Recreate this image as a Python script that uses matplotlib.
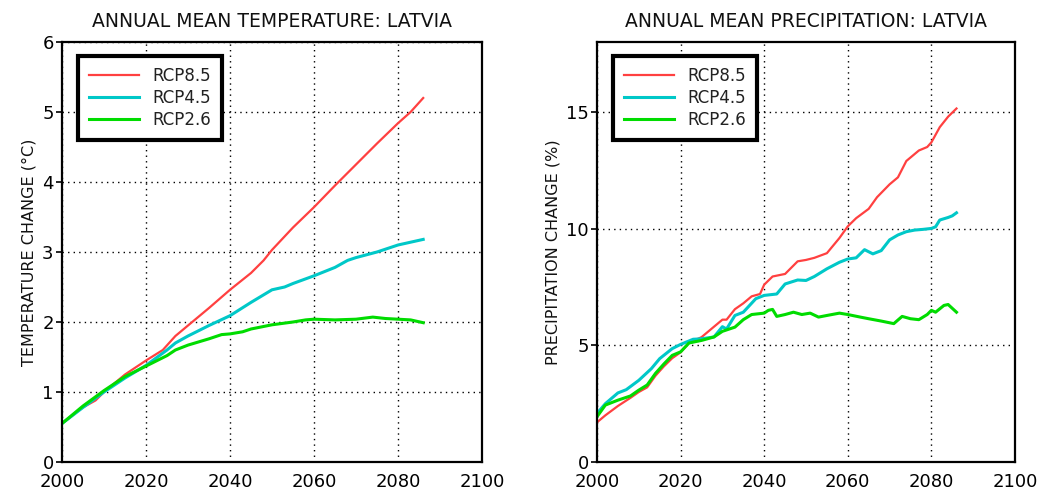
import matplotlib
matplotlib.use("Agg")
import matplotlib.pyplot as plt

# ---------------- data ----------------
temp_years_85 = [2000, 2005, 2008, 2010, 2015, 2020, 2024, 2027, 2030, 2035, 2040, 2045, 2048, 2050, 2055, 2060, 2065, 2070, 2075, 2080, 2083, 2086]
temp_rcp85 = [0.55, 0.78, 0.88, 1.0, 1.25, 1.45, 1.6, 1.8, 1.95, 2.2, 2.46, 2.7, 2.88, 3.03, 3.35, 3.64, 3.95, 4.25, 4.55, 4.84, 5.0, 5.2]
temp_years_45 = [2000, 2005, 2010, 2015, 2020, 2025, 2027, 2030, 2035, 2040, 2045, 2050, 2053, 2055, 2060, 2065, 2068, 2070, 2075, 2080, 2086]
temp_rcp45 = [0.55, 0.78, 1.0, 1.2, 1.38, 1.6, 1.7, 1.8, 1.95, 2.09, 2.28, 2.46, 2.5, 2.55, 2.66, 2.78, 2.88, 2.92, 3.0, 3.1, 3.18]
temp_years_26 = [2000, 2005, 2010, 2015, 2020, 2025, 2027, 2030, 2035, 2038, 2040, 2043, 2045, 2050, 2055, 2058, 2060, 2065, 2070, 2074, 2077, 2080, 2083, 2086]
temp_rcp26 = [0.55, 0.8, 1.02, 1.22, 1.37, 1.52, 1.6, 1.67, 1.76, 1.82, 1.83, 1.86, 1.9, 1.96, 2.0, 2.03, 2.04, 2.03, 2.04, 2.07, 2.05, 2.04, 2.03, 1.99]

prec_years_85 = [2000, 2002, 2005, 2008, 2010, 2012, 2014, 2016, 2018, 2020, 2022, 2025, 2028, 2030, 2031, 2033, 2035, 2037, 2039, 2040, 2042, 2045, 2048, 2050, 2052, 2055, 2058, 2060, 2062, 2065, 2067, 2070, 2072, 2074, 2077, 2079, 2080, 2082, 2084, 2086]
prec_rcp85 = [1.7, 2.0, 2.4, 2.75, 3.0, 3.2, 3.7, 4.1, 4.45, 4.7, 5.1, 5.35, 5.8, 6.1, 6.1, 6.55, 6.8, 7.1, 7.2, 7.6, 7.95, 8.06, 8.6, 8.66, 8.75, 8.95, 9.6, 10.1, 10.45, 10.85, 11.35, 11.9, 12.2, 12.9, 13.35, 13.5, 13.7, 14.35, 14.8, 15.15]
prec_years_45 = [2000, 2002, 2005, 2007, 2010, 2013, 2015, 2018, 2020, 2023, 2025, 2028, 2030, 2031, 2033, 2035, 2038, 2040, 2043, 2045, 2048, 2050, 2052, 2055, 2058, 2060, 2062, 2064, 2066, 2068, 2070, 2072, 2074, 2076, 2078, 2080, 2081, 2082, 2084, 2085, 2086]
prec_rcp45 = [2.08, 2.5, 2.96, 3.1, 3.5, 4.0, 4.43, 4.86, 5.04, 5.26, 5.28, 5.36, 5.8, 5.7, 6.28, 6.42, 7.0, 7.14, 7.2, 7.63, 7.8, 7.78, 7.95, 8.28, 8.56, 8.7, 8.75, 9.1, 8.92, 9.06, 9.52, 9.73, 9.87, 9.94, 9.97, 10.01, 10.08, 10.37, 10.48, 10.55, 10.68]
prec_years_26 = [2000, 2002, 2005, 2008, 2010, 2012, 2014, 2016, 2018, 2020, 2022, 2025, 2028, 2030, 2033, 2035, 2037, 2040, 2041, 2042, 2043, 2045, 2047, 2049, 2051, 2053, 2055, 2058, 2060, 2063, 2065, 2068, 2071, 2073, 2075, 2077, 2079, 2080, 2081, 2083, 2084, 2086]
prec_rcp26 = [1.94, 2.44, 2.65, 2.83, 3.08, 3.3, 3.8, 4.2, 4.57, 4.72, 5.1, 5.21, 5.36, 5.6, 5.78, 6.1, 6.32, 6.38, 6.5, 6.54, 6.24, 6.32, 6.42, 6.32, 6.38, 6.21, 6.28, 6.38, 6.32, 6.21, 6.14, 6.04, 5.93, 6.24, 6.14, 6.1, 6.32, 6.5, 6.42, 6.71, 6.75, 6.42]

series_labels = ["RCP8.5", "RCP4.5", "RCP2.6"]
x_ticks = [2000, 2020, 2040, 2060, 2080, 2100]
temp_ticks = [0, 1, 2, 3, 4, 5, 6]
prec_ticks = [0, 5, 10, 15]

colors = ["#ff4040", "#00c8c8", "#00dc00"]
widths = [1.6, 2.2, 2.2]

W, H = 1047, 491
fig = plt.figure(figsize=(W / 100, H / 100), dpi=100)
plt.rcParams['font.family'] = ['DejaVu Sans']


def style_axes(ax, yticks, ylim, ylabel, title):
    ax.set_xlim(2000, 2100)
    ax.set_ylim(*ylim)
    ax.set_xticks(x_ticks)
    ax.set_yticks(yticks)
    ax.tick_params(axis='both', labelsize=13, direction='out', length=4, width=1.2, pad=2)
    ax.tick_params(axis='x', length=0, pad=8)
    for s in ax.spines.values():
        s.set_linewidth(1.6)
        s.set_color('black')
    ax.grid(True, color='black', linestyle=(0, (1, 3)), linewidth=1.0)
    ax.set_axisbelow(True)
    ax.set_ylabel(ylabel, fontsize=11.5, labelpad=4, color='#111111')
    ax.set_title(title, fontsize=13.5, pad=11, color='#111111')
    leg = ax.legend(loc='upper left', bbox_to_anchor=(0.038, 0.967), borderaxespad=0,
                    fancybox=False, framealpha=1, edgecolor='black', fontsize=12,
                    handlelength=3.0, handletextpad=0.8, labelspacing=0.25,
                    borderpad=0.65)
    leg.get_frame().set_linewidth(3)
    for t in leg.get_texts():
        t.set_color('#222222')


ax1 = fig.add_axes([62 / W, 29 / H, 420 / W, 420 / H])
ax1.plot(temp_years_85, temp_rcp85, color=colors[0], lw=widths[0], label=series_labels[0])
ax1.plot(temp_years_45, temp_rcp45, color=colors[1], lw=widths[1], label=series_labels[1])
ax1.plot(temp_years_26, temp_rcp26, color=colors[2], lw=widths[2], label=series_labels[2])
style_axes(ax1, temp_ticks, (0, 6), "TEMPERATURE CHANGE (°C)", "ANNUAL MEAN TEMPERATURE: LATVIA")

ax2 = fig.add_axes([597 / W, 29 / H, 418 / W, 420 / H])
ax2.plot(prec_years_85, prec_rcp85, color=colors[0], lw=widths[0], label=series_labels[0])
ax2.plot(prec_years_45, prec_rcp45, color=colors[1], lw=widths[1], label=series_labels[1])
ax2.plot(prec_years_26, prec_rcp26, color=colors[2], lw=widths[2], label=series_labels[2])
style_axes(ax2, prec_ticks, (0, 18), "PRECIPITATION CHANGE (%)", "ANNUAL MEAN PRECIPITATION: LATVIA")

fig.savefig("out.png", dpi=100)
